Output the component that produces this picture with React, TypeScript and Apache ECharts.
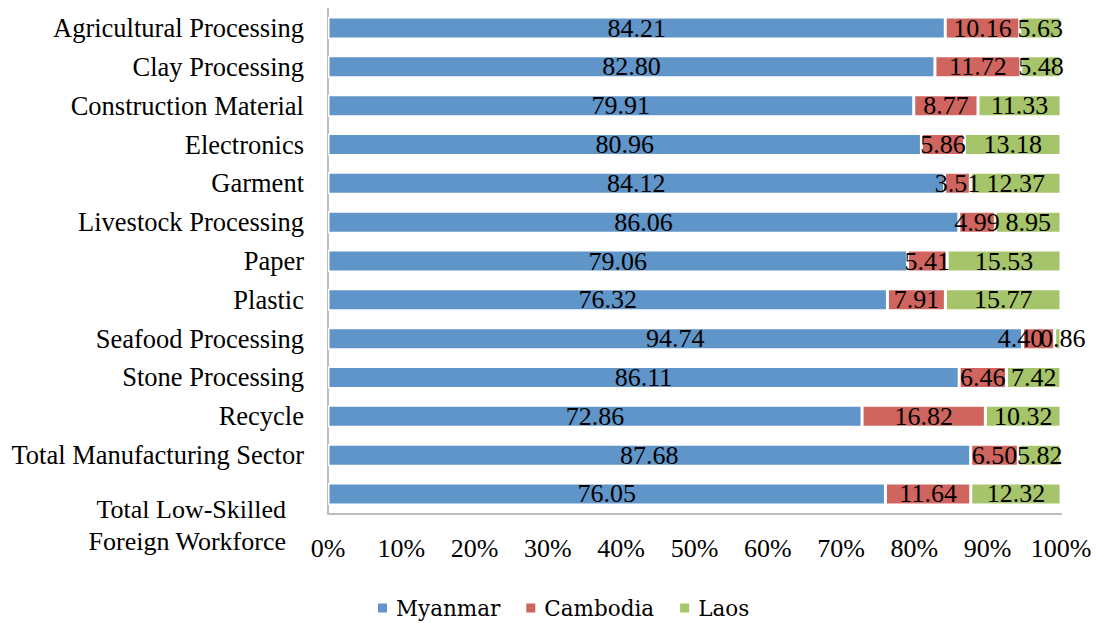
import React, { useEffect, useRef } from "react";
import * as echarts from "echarts";

const categories = [
  "Agricultural Processing",
  "Clay Processing",
  "Construction Material",
  "Electronics",
  "Garment",
  "Livestock Processing",
  "Paper",
  "Plastic",
  "Seafood Processing",
  "Stone Processing",
  "Recycle",
  "Total Manufacturing Sector",
  "Total Low-Skilled\nForeign Workforce",
];

const myanmar = [84.21, 82.8, 79.91, 80.96, 84.12, 86.06, 79.06, 76.32, 94.74, 86.11, 72.86, 87.68, 76.05];
const cambodia = [10.16, 11.72, 8.77, 5.86, 3.51, 4.99, 5.41, 7.91, 4.4, 6.46, 16.82, 6.5, 11.64];
const laos = [5.63, 5.48, 11.33, 13.18, 12.37, 8.95, 15.53, 15.77, 0.86, 7.42, 10.32, 5.82, 12.32];

const seriesNames = ["Myanmar", "Cambodia", "Laos"];
const colors = ["#5f95c8", "#d0655f", "#a6c46a"];

// Nudges for labels on very narrow segments so neighbours don't collide
// (keyed by series index, then category index).
const labelNudges: Record<number, Record<number, [number, number]>> = {
  1: { 8: [-18, 0] },
  2: { 8: [5, 0] },
};

const SERIF = "'Liberation Serif', 'Times New Roman', serif";

export default function App() {
  const ref = useRef<HTMLDivElement>(null);

  useEffect(() => {
    if (!ref.current) return;
    const chart = echarts.init(ref.current, null, { renderer: "svg" });
    const datasets = [myanmar, cambodia, laos];

    chart.setOption({
      animation: false,
      color: colors,
      grid: { left: 328, right: 37, top: 8.6, bottom: 109.6, containLabel: false },
      xAxis: {
        type: "value",
        min: 0,
        max: 100,
        interval: 10,
        axisLine: { show: true, lineStyle: { color: "#bdbdbd", width: 2 } },
        axisTick: { show: false },
        splitLine: { show: false },
        axisLabel: {
          formatter: "{value}%",
          margin: 22,
          color: "#000",
          fontFamily: SERIF,
          fontSize: 26,
        },
      },
      yAxis: {
        type: "category",
        inverse: true,
        data: categories,
        axisLine: { show: true, lineStyle: { color: "#bdbdbd", width: 2 } },
        axisTick: { show: false },
        axisLabel: {
          interval: 0,
          margin: 24,
          color: "#000",
          fontFamily: SERIF,
          fontSize: 26.5,
          formatter: (v: string) =>
            v.includes("\n") ? "{w|\n\n" + v + "}" : v,
          rich: {
            w: {
              fontFamily: SERIF,
              fontSize: 26,
              lineHeight: 32,
              color: "#000",
              align: "right",
              padding: [0, 18, 0, 0],
            },
          },
        },
      },
      legend: {
        data: seriesNames,
        left: 371,
        top: 592,
        icon: "rect",
        itemWidth: 11,
        itemHeight: 11,
        itemGap: 24,
        textStyle: {
          fontFamily: "'DejaVu Serif', serif",
          fontSize: 21.5,
          color: "#000",
          padding: [0, 0, 0, 3],
        },
      },
      series: seriesNames.map((name, i) => ({
        name,
        type: "bar",
        stack: "total",
        barWidth: 22,
        data: datasets[i].map((v, j) => {
          const nudge = labelNudges[i]?.[j];
          return nudge ? { value: v, label: { offset: nudge } } : v;
        }),
        itemStyle: { color: colors[i], borderColor: "#fff", borderWidth: 1.5 },
        label: {
          show: true,
          position: "inside",
          color: "#000",
          fontFamily: SERIF,
          fontSize: 26,
          formatter: (p: any) => Number(p.value).toFixed(2),
        },
      })),
    });

    return () => chart.dispose();
  }, []);

  return (
    <div
      ref={ref}
      style={{ position: "fixed", left: 0, top: 0, width: 1098, height: 623, background: "#fff" }}
    />
  );
}
